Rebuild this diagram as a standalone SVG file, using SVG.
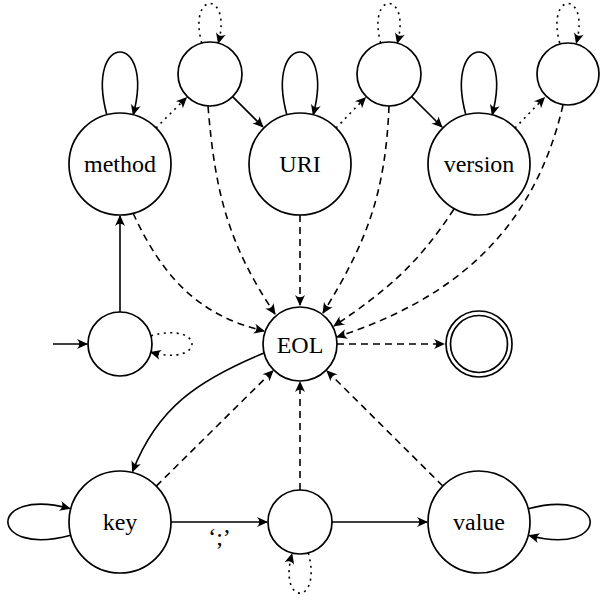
<svg xmlns="http://www.w3.org/2000/svg" width="600" height="600" viewBox="0 0 600 600">
<style>
.node circle{fill:#fff;stroke:#000;stroke-width:1.7}
.node text{font-family:"Liberation Serif","Times New Roman",serif;font-size:24px;text-anchor:middle;fill:#000}
.e{fill:none;stroke:#000;stroke-width:1.6}
.dash{stroke-dasharray:7 5}
.dot{stroke-dasharray:2 4.5}
.arr{marker-end:url(#ah)}
.lbl{font-family:"Liberation Serif","Times New Roman",serif;font-size:24px;text-anchor:middle;fill:#000}
</style>
<defs>
<marker id="ah" viewBox="-12 -6 13 12" refX="-1" refY="0" markerWidth="13" markerHeight="12" markerUnits="userSpaceOnUse" orient="auto">
<path d="M0,0 L-11,-5 Q-6.5,0 -11,5 Z" fill="#000"/>
</marker>
</defs>
<g id="edges">
<path class="e arr" d="M53,344 L87,344"/>
<path class="e arr" d="M120,312 L120,216"/>
<path class="e dot arr" d="M150.9,335.7 C205.7,321 205.7,367 150.9,352.3"/>
<path class="e arr" d="M106.8,114.7 C84.4,31 155.6,31 133.2,114.7"/>
<path class="e arr" d="M286.8,114.7 C264.4,31 335.6,31 313.2,114.7"/>
<path class="e arr" d="M465.8,114.7 C443.4,31 514.6,31 492.2,114.7"/>
<path class="e dot arr" d="M201.7,43.1 C187.6,-9.7 232.4,-9.7 218.3,43.1"/>
<path class="e dot arr" d="M380.7,43.1 C366.6,-9.7 411.4,-9.7 397.3,43.1"/>
<path class="e dot arr" d="M559.7,43.1 C545.6,-9.7 590.4,-9.7 576.3,43.1"/>
<path class="e dot arr" d="M156,128 L186.4,97.6"/>
<path class="e arr" d="M232.6,96.6 L262.9,126.9"/>
<path class="e dot arr" d="M336,128 L365.4,97.6"/>
<path class="e arr" d="M411.6,96.6 L442,127"/>
<path class="e dot arr" d="M515,128 L544.4,97.6"/>
<path class="e dash arr" d="M133,213 C162,276 198,315.5 264,331"/>
<path class="e dash arr" d="M208,106 C215,192 228,244 275,314"/>
<path class="e dash arr" d="M300,215 L300,305"/>
<path class="e dash arr" d="M389,106 C385.5,192 367.6,241 323,313"/>
<path class="e dash arr" d="M454,209 C418,264 387.7,290 334,326"/>
<path class="e dash arr" d="M563,105 C534.4,228.7 456.8,297.8 337,337"/>
<path class="e dash arr" d="M337,344 L444,344"/>
<path class="e arr" d="M264,353 C199.3,379.8 157.4,407.1 132.6,471.5"/>
<path class="e dash arr" d="M156.3,486.1 L273,370.7"/>
<path class="e dash arr" d="M300,490 L300,382"/>
<path class="e dash arr" d="M442.8,486 L327,370.9"/>
<path class="e arr" d="M70.7,535.2 C-12.9,557.6 -12.9,486.4 69.7,508.5"/>
<path class="e arr" d="M171,522 L267,522"/>
<path class="e arr" d="M332,522 L427,522"/>
<path class="e arr" d="M528.3,508.8 C610.6,486.7 610.6,557.3 529.3,535.5"/>
<path class="e dot arr" d="M308.3,552.9 C322.6,606.4 277.4,606.4 292,554"/>
<text class="lbl" x="219.5" y="545">‘;’</text>
</g>
<g id="n_method" class="node"><circle cx="120" cy="164" r="51"/><text x="120" y="172">method</text></g>
<g id="n_s1" class="node"><circle cx="210" cy="74" r="32"/></g>
<g id="n_uri" class="node"><circle cx="300" cy="164" r="51"/><text x="300" y="172">URI</text></g>
<g id="n_s2" class="node"><circle cx="389" cy="74" r="32"/></g>
<g id="n_version" class="node"><circle cx="479" cy="164" r="51"/><text x="479" y="172">version</text></g>
<g id="n_s3" class="node"><circle cx="568" cy="74" r="31"/></g>
<g id="n_start" class="node"><circle cx="120" cy="344" r="32"/></g>
<g id="n_eol" class="node"><circle cx="300" cy="344" r="37"/><text x="300" y="352.5">EOL</text></g>
<g id="n_accept" class="node"><circle cx="479" cy="344" r="33"/><circle cx="479" cy="344" r="28.5"/></g>
<g id="n_key" class="node"><circle cx="120" cy="522" r="51"/><text x="120" y="530">key</text></g>
<g id="n_semi" class="node"><circle cx="300" cy="522" r="32"/></g>
<g id="n_value" class="node"><circle cx="479" cy="522" r="51"/><text x="479" y="530">value</text></g>
</svg>
